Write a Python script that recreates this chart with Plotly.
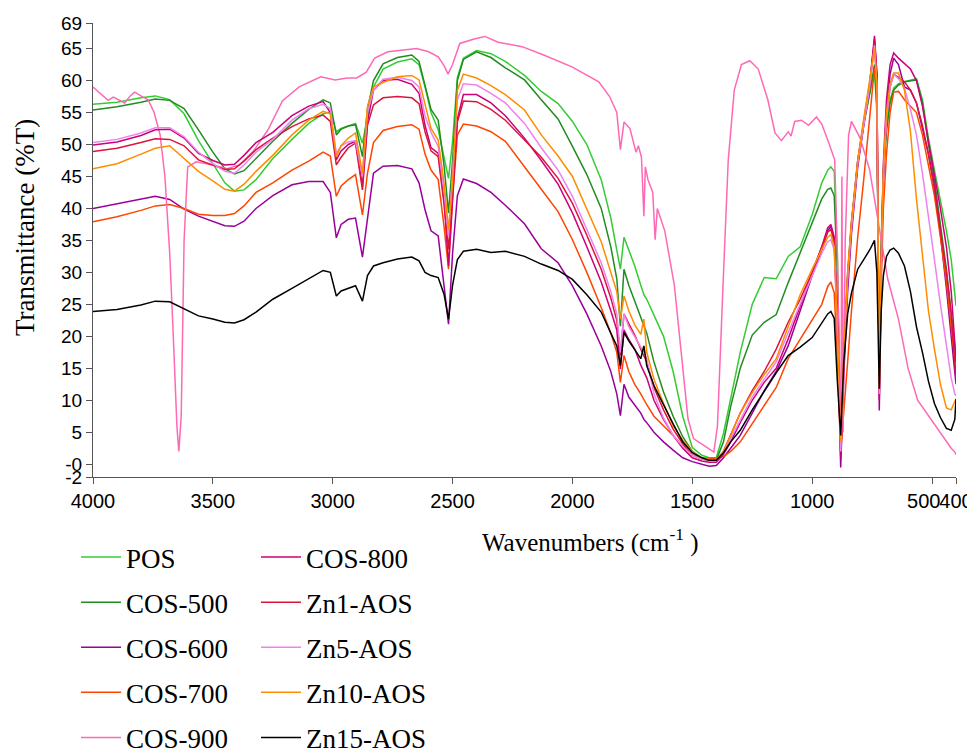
import plotly.graph_objects as go

# ---------------- data ----------------
WN = [4000, 3900, 3800, 3740, 3680, 3620, 3560, 3500, 3450, 3410,
      3370, 3320, 3250, 3170, 3100, 3040, 3010, 2985, 2965, 2935,
      2905, 2876, 2855, 2830, 2790, 2730, 2670, 2640, 2615, 2590,
      2560, 2535, 2517, 2500, 2480, 2455, 2400, 2340, 2280, 2200,
      2130, 2060, 2000, 1940, 1880, 1840, 1815, 1800, 1785, 1765,
      1740, 1715, 1702, 1690, 1660, 1620, 1580, 1540, 1500, 1460,
      1430, 1400, 1370, 1340, 1300, 1250, 1200, 1150, 1100, 1050,
      1000, 960, 935, 922, 908, 895, 881, 868, 852, 836,
      810, 785, 760, 740, 730, 720, 712, 703, 690, 675,
      660, 640, 615, 590, 565, 540, 515, 490, 465, 440,
      420, 405, 400]

POS = [56.3, 56.6, 57.3, 57.6, 57.0, 54.8, 50.6, 47.0, 44.0, 42.7,
       42.9, 44.5, 47.8, 50.8, 53.3, 54.8, 55.1, 52.0, 52.5, 52.9,
       53.3, 50.2, 54.5, 59.0, 61.8, 62.9, 63.4, 62.5, 59.0, 55.0,
       52.3, 48.0, 44.7, 50.5, 60.5, 63.5, 64.7, 64.2, 63.0, 60.8,
       58.3, 56.4, 53.6, 50.0, 44.5, 38.5, 33.5, 30.5, 35.5, 33.5,
       31.0, 28.0, 26.5, 25.8, 23.3, 20.0, 14.5, 7.5, 2.6, 1.4,
       1.0, 1.0, 4.8, 10.5, 17.5, 25.0, 29.2, 29.0, 32.5, 34.0,
       39.0, 44.0, 46.0, 46.5, 45.8, 33.0, 3.5, 18.0, 30.0, 38.0,
       47.5, 53.5, 58.0, 61.5, 55.0, 15.0, 35.0, 46.0, 53.0, 57.0,
       58.8, 59.5, 59.8, 60.0, 60.3, 57.0, 51.0, 46.0, 41.5, 36.5,
       32.0, 26.5, 24.8]

COS500 = [55.4, 55.9, 56.6, 57.1, 56.9, 55.6, 52.3, 48.8, 46.2, 45.4,
          45.9, 47.8, 50.5, 53.3, 55.5, 57.0, 56.5, 51.5, 52.4, 52.9,
          53.1, 48.1, 55.5, 60.0, 62.6, 63.6, 64.0, 63.0, 59.0, 55.5,
          53.8, 46.5, 39.3, 47.5, 60.0, 63.3, 64.5, 63.6, 62.0, 60.1,
          57.0, 54.0, 49.7, 45.3, 40.0, 34.0, 29.0, 21.6, 30.5, 28.0,
          25.5, 23.0, 21.8, 20.5, 16.0, 11.3, 7.5, 4.3, 2.0, 1.0,
          0.6, 0.6, 3.5, 9.0, 15.0, 20.2, 22.2, 23.4, 28.4, 33.0,
          37.8, 41.5, 43.0, 43.2, 42.0, 30.0, 3.0, 17.0, 29.0, 37.5,
          47.0, 53.0, 58.0, 62.5, 56.0, 14.0, 33.0, 45.0, 52.0, 56.5,
          58.5, 59.3, 59.8, 60.0, 60.1, 56.5, 50.0, 44.5, 37.5, 30.5,
          23.5, 18.0, 17.0]

COS600 = [40.0, 40.7, 41.5, 41.9, 41.4, 39.9, 38.8, 38.0, 37.3, 37.2,
          38.0, 40.0, 42.0, 43.7, 44.2, 44.2, 42.5, 35.4, 37.5, 38.3,
          38.5, 32.4, 38.0, 45.5, 46.6, 46.7, 46.2, 44.0, 39.8, 36.5,
          35.7, 27.5, 21.9, 33.0, 42.0, 44.6, 43.9, 42.5, 40.5, 37.6,
          33.7, 31.5, 27.9, 23.5, 18.5, 14.5, 11.0, 7.6, 12.5, 10.5,
          9.2, 8.0, 7.0, 6.5, 5.0, 3.5, 2.2, 1.0, 0.4, 0.0,
          -0.3, -0.2, 1.0, 2.5, 4.5, 8.0, 11.5, 14.5, 18.5, 24.0,
          29.5, 33.5, 36.5, 37.2, 35.0, 22.0, -0.5, 14.0, 27.0, 36.0,
          46.5, 53.0, 59.0, 66.5, 61.0, 8.4, 30.0, 45.0, 55.0, 61.0,
          63.5, 62.5, 59.0, 58.5, 56.5, 52.5, 48.5, 43.5, 36.0, 27.5,
          20.0, 14.5, 12.5]

COS700 = [37.9, 38.7, 39.7, 40.4, 40.6, 40.0, 39.1, 38.9, 38.9, 39.2,
          40.4, 42.5, 44.0, 46.0, 47.4, 48.8, 48.2, 41.9, 43.5, 44.5,
          45.3, 39.0, 45.5, 50.3, 52.2, 52.8, 53.1, 52.4, 48.5, 46.0,
          44.5, 37.0, 30.5, 41.5, 51.5, 53.2, 52.9, 52.0, 50.5, 46.6,
          43.0, 39.5, 35.1, 30.0, 24.5, 20.5, 17.5, 12.8, 17.0, 14.5,
          12.5, 11.0, 10.0, 9.3, 7.5, 6.0, 4.5, 2.8, 1.5, 1.0,
          0.9, 0.9, 1.2, 2.0, 3.5, 6.3, 9.0, 12.0, 16.5, 19.5,
          22.5, 25.0, 27.8, 28.5, 26.8, 17.0, 2.0, 9.0, 16.0, 24.0,
          35.5, 44.5, 54.0, 62.0, 58.0, 12.0, 28.0, 40.0, 48.5, 55.0,
          58.2, 58.3, 57.0, 56.0, 55.0, 51.5, 47.0, 42.0, 35.5, 28.5,
          21.5, 16.0, 14.9]

COS800 = [49.9, 50.4, 51.4, 52.3, 52.4, 51.0, 48.6, 47.5, 46.8, 46.9,
          48.3, 50.3, 51.9, 54.5, 56.0, 56.7, 55.0, 47.6, 49.0, 50.0,
          50.5, 43.4, 53.5, 58.5, 60.0, 60.2, 59.4, 58.0, 53.0, 49.5,
          48.6, 41.0, 31.0, 42.0, 54.0, 57.8, 57.8, 56.5, 54.5, 51.0,
          47.5, 43.8, 39.3, 34.0, 28.5, 24.0, 21.0, 14.9, 21.0, 19.5,
          18.0, 15.5, 14.5, 13.5, 10.0, 7.0, 4.5, 2.5, 1.0, 0.5,
          0.3, 0.3, 1.5, 3.5, 6.5, 10.0, 12.8, 15.0, 19.6, 24.8,
          30.0, 34.0, 37.0, 37.5, 35.5, 23.0, 1.0, 16.0, 29.0, 37.0,
          47.0, 53.0, 59.5, 67.0, 61.0, 10.0, 32.0, 47.0, 57.0, 62.5,
          64.3, 63.5, 62.6, 61.8, 60.0, 56.0, 50.5, 45.5, 40.0, 34.0,
          27.0, 19.0, 16.0]

ZN1 = [48.9, 49.4, 50.3, 50.9, 50.8, 49.8, 47.6, 46.8, 46.1, 46.2,
       47.4, 49.2, 51.0, 52.8, 54.0, 54.6, 53.6, 46.8, 48.0, 49.5,
       50.2, 42.9, 53.0, 56.2, 57.3, 57.5, 57.3, 56.4, 52.0, 49.0,
       48.1, 40.5, 33.6, 42.5, 53.5, 56.8, 56.7, 55.5, 53.8, 50.7,
       48.0, 44.7, 40.8, 35.8, 30.5, 26.0, 22.5, 17.0, 23.5, 22.0,
       20.2, 18.0, 17.0, 16.0, 12.0, 8.5, 5.5, 3.2, 1.4, 0.8,
       0.6, 0.6, 2.0, 4.5, 8.0, 11.5, 14.5, 18.0, 22.2, 25.8,
       30.0, 34.0, 36.3, 36.7, 34.8, 22.0, 2.0, 16.5, 29.5, 37.5,
       47.5, 53.5, 59.5, 66.0, 60.0, 11.0, 31.0, 45.0, 54.0, 59.0,
       61.0, 60.5, 59.8, 58.5, 56.5, 53.0, 48.5, 43.0, 36.5, 30.0,
       23.5, 16.0, 13.3]

ZN5 = [50.3, 50.8, 51.8, 52.6, 52.6, 51.2, 48.8, 47.0, 45.8, 45.5,
       46.8, 48.8, 50.8, 53.8, 55.6, 56.3, 55.6, 48.6, 49.8, 50.4,
       50.6, 45.0, 55.0, 58.5, 60.2, 60.5, 60.0, 59.0, 54.5, 51.9,
       49.7, 42.5, 35.7, 46.0, 57.0, 59.5, 59.3, 58.0, 56.5, 53.3,
       49.5, 46.0, 41.9, 36.7, 31.5, 27.0, 23.5, 17.5, 23.5, 21.5,
       20.0, 18.5, 17.5, 16.5, 11.0, 7.2, 4.5, 2.8, 1.4, 0.8,
       0.6, 0.6, 1.8, 4.0, 7.0, 10.5, 13.3, 16.0, 20.6, 25.0,
       29.5, 33.0, 34.8, 35.1, 33.5, 21.0, 2.0, 16.0, 29.0, 37.0,
       47.0, 53.0, 59.0, 65.5, 59.0, 11.0, 31.0, 45.0, 54.0, 59.0,
       61.0, 60.3, 58.8, 55.5, 51.5, 45.5, 39.0, 32.0, 25.0, 18.5,
       13.5, 11.0, 10.7]

ZN10 = [46.2, 47.0, 48.5, 49.4, 49.8, 47.8, 45.8, 44.3, 43.0, 42.7,
        43.8, 45.8, 48.3, 51.5, 53.8, 55.2, 54.8, 48.1, 49.8, 51.0,
        51.8, 45.5, 56.0, 59.0, 59.7, 60.6, 60.8, 60.1, 56.5, 52.5,
        50.7, 43.8, 36.7, 44.0, 58.5, 61.0, 60.4, 59.2, 57.8, 55.4,
        51.5, 48.2, 45.0, 40.0, 34.8, 30.0, 27.0, 22.7, 26.3, 24.0,
        21.8, 20.3, 22.7, 17.5, 13.3, 9.5, 6.0, 3.8, 1.9, 1.0,
        0.7, 0.7, 2.0, 4.5, 8.0, 11.2, 14.0, 16.5, 21.6, 26.5,
        30.5, 33.5, 35.5, 35.9, 34.0, 22.0, 3.5, 17.0, 30.0, 38.0,
        47.5, 54.0, 60.0, 65.0, 59.5, 12.0, 32.0, 46.0, 55.0, 59.5,
        61.2, 61.2, 58.5, 52.0, 41.5, 32.5, 24.0, 18.0, 12.5, 8.8,
        8.5, 9.8, 10.2]

ZN15 = [23.9, 24.2, 24.9, 25.5, 25.4, 24.3, 23.2, 22.7, 22.2, 22.1,
        22.6, 23.8, 25.8, 27.5, 29.0, 30.3, 30.0, 26.3, 27.1, 27.5,
        27.9, 25.5, 29.5, 31.0, 31.5, 32.1, 32.4, 31.8, 30.0, 29.5,
        29.2, 26.5, 22.7, 28.0, 32.0, 33.3, 33.6, 33.1, 33.3, 32.5,
        31.3, 30.3, 28.9, 26.5, 23.8, 20.5, 18.5, 15.4, 20.6, 19.3,
        18.0, 16.5, 18.5, 15.4, 12.3, 9.2, 6.3, 3.5, 1.8, 1.0,
        0.6, 0.6, 1.8, 3.5, 5.3, 8.5, 11.5, 14.3, 17.0, 18.3,
        19.8, 22.0, 23.5, 23.9, 22.8, 13.0, 4.5, 16.0, 23.5, 26.8,
        30.5, 32.0, 33.5, 35.0, 30.0, 11.8, 24.0, 29.5, 32.5, 33.5,
        33.8, 33.0, 31.0, 27.0, 21.5, 17.5, 13.0, 9.5, 7.3, 5.6,
        5.3, 7.0, 10.2]

WN900 = [4000, 3970, 3937, 3915, 3890, 3868, 3845, 3826, 3800, 3770,
         3745, 3720, 3700, 3680, 3665, 3650, 3642, 3632, 3620, 3605,
         3570, 3500, 3440, 3390, 3330, 3270, 3210, 3140, 3050, 2990,
         2940, 2900, 2860, 2825, 2770, 2700, 2650, 2600, 2560, 2535,
         2519, 2500, 2470, 2410, 2365, 2310, 2210, 2120, 2000, 1890,
         1845, 1815, 1800, 1785, 1760, 1735, 1725, 1712, 1702, 1696,
         1685, 1665, 1655, 1646, 1615, 1575, 1545, 1518, 1495, 1460,
         1430, 1410, 1395, 1372, 1350, 1325, 1295, 1260, 1225, 1185,
         1155, 1128, 1100, 1088, 1073, 1045, 1015, 982, 960, 935,
         906, 895, 886, 880, 876, 871, 862, 848, 836, 800,
         760, 725, 685, 640, 600, 560, 505, 450, 420, 405,
         400]

COS900 = [59.0, 58.0, 56.9, 57.4, 56.9, 56.5, 57.6, 58.2, 57.6, 57.0,
          55.0, 51.5, 45.0, 33.0, 20.0, 6.0, 2.0, 7.5, 35.0, 46.5,
          47.3, 46.8, 46.2, 46.8, 49.0, 52.3, 56.8, 59.0, 60.6, 60.1,
          60.4, 60.4, 61.3, 63.5, 64.5, 64.8, 65.0, 64.5, 63.7, 62.3,
          61.0, 62.5, 65.8, 66.5, 66.9, 66.0, 65.3, 64.0, 62.1, 59.8,
          57.5, 55.0, 49.2, 53.5, 52.5, 48.8, 49.8, 48.0, 38.8, 46.5,
          44.5, 42.5, 35.1, 40.0, 36.5, 28.0, 17.5, 7.1, 4.0, 3.2,
          2.4, 1.9, 6.0, 27.9, 47.6, 58.5, 62.5, 63.1, 61.8, 57.0,
          51.8, 50.6, 52.0, 51.3, 53.6, 53.8, 53.0, 54.3, 53.2, 50.7,
          47.6, 33.0, 10.0, 2.0, 45.0, 5.0, 35.0, 51.5, 53.6, 51.0,
          46.0, 38.3, 29.0, 22.7, 15.0, 10.0, 7.0, 4.2, 2.5, 1.9,
          1.5]

X_TICKS = [4000, 3500, 3000, 2500, 2000, 1500, 1000, 500, 400]
NB = "\u00a0"
X_TICK_TEXT = ["4000", "3500", "3000", "2500", "2000", "1500", "1000",
               "500" + NB * 3, "400"]
Y_TICKS = [69, 65, 60, 55, 50, 45, 40, 35, 30, 25, 20, 15, 10, 5, 0, -2]
Y_TICK_TEXT = ["69", "65", "60", "55", "50", "45", "40", "35", "30", "25",
               "20", "15", "10", "5", "-0", "-2"]

# (name, x, y, colour, legend)
SERIES = [
    ("POS", WN, POS, "#33CC33", "legend"),
    ("COS-500", WN, COS500, "#228B22", "legend"),
    ("COS-600", WN, COS600, "#990099", "legend"),
    ("COS-700", WN, COS700, "#FF4500", "legend"),
    ("COS-900", WN900, COS900, "#FF69B4", "legend"),
    ("COS-800", WN, COS800, "#CC0077", "legend2"),
    ("Zn1-AOS", WN, ZN1, "#DC143C", "legend2"),
    ("Zn5-AOS", WN, ZN5, "#EE82EE", "legend2"),
    ("Zn10-AOS", WN, ZN10, "#FF8C00", "legend2"),
    ("Zn15-AOS", WN, ZN15, "#000000", "legend2"),
]

fig = go.Figure()
for name, xs, ys, col, leg in SERIES:
    fig.add_trace(go.Scatter(
        x=xs, y=ys, mode="lines", name=name,
        line=dict(color=col, width=1.5),
        legend=leg, legendgroup=name,
    ))

# the page body adds an 8px offset; the figure is sized to fit the window
OFF = 8
W, H = 975 - OFF, 753 - OFF
L, T = 93 - OFF, 23 - OFF
pw = 956 - 93
ph = 477 - 23
R = W - L - pw
B = H - T - ph


def px_x(p):
    """page pixel -> paper x"""
    return (p - OFF - L) / pw


def px_y(p):
    """page pixel -> paper y"""
    return (H - B - (p - OFF)) / ph


legend_font = dict(family="Liberation Serif", size=27, color="black")
fig.update_layout(
    width=W, height=H,
    margin=dict(l=L, r=R, t=T, b=B, autoexpand=False),
    plot_bgcolor="white", paper_bgcolor="white",
    showlegend=True,
    legend=dict(x=px_x(76), y=px_y(533), xanchor="left", yanchor="top",
                font=legend_font, tracegroupgap=7, bgcolor="rgba(0,0,0,0)",
                itemwidth=40),
    legend2=dict(x=px_x(256), y=px_y(533), xanchor="left", yanchor="top",
                 font=legend_font, tracegroupgap=7, bgcolor="rgba(0,0,0,0)",
                 itemwidth=40),
    xaxis=dict(range=[4000, 400], tickvals=X_TICKS, ticktext=X_TICK_TEXT,
               tickangle=0, ticks="outside", ticklen=6, tickcolor="#555",
               showline=True, linecolor="#555", linewidth=1.2, showgrid=False,
               zeroline=False, automargin=False,
               tickfont=dict(family="Liberation Sans", size=20, color="black")),
    yaxis=dict(range=[-2, 69], tickvals=Y_TICKS, ticktext=Y_TICK_TEXT,
               ticks="outside", ticklen=6, tickcolor="#555", showline=True,
               linecolor="#555", linewidth=1.2, showgrid=False, zeroline=False,
               automargin=False,
               tickfont=dict(family="Liberation Sans", size=19, color="black")),
    annotations=[
        dict(text="Transmittance (%T)", xref="paper", yref="paper",
             x=px_x(25), y=px_y(228), textangle=-90, showarrow=False,
             xanchor="center", yanchor="middle",
             font=dict(family="Liberation Serif", size=27, color="black")),
        dict(text="Wavenumbers (cm<sup>-1</sup> )", xref="paper", yref="paper",
             x=px_x(590), y=px_y(540), showarrow=False,
             xanchor="center", yanchor="middle",
             font=dict(family="Liberation Serif", size=25, color="black")),
    ],
)

fig.write_html("out.html")
